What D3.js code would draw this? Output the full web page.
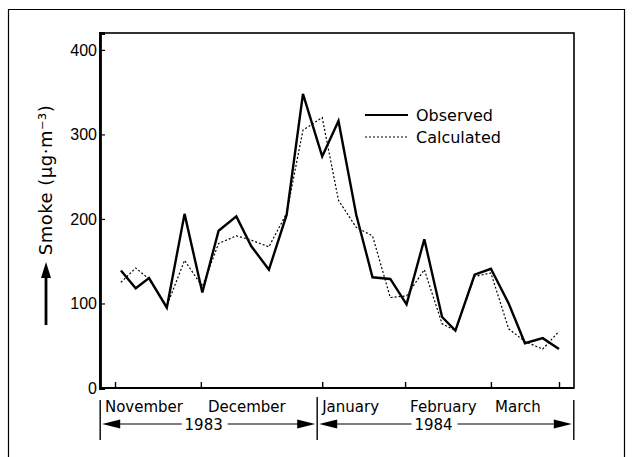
<!DOCTYPE html>
<html>
<head>
<meta charset="utf-8">
<script src="https://cdn.jsdelivr.net/npm/d3@7"></script>
<style>
  body { margin: 0; background: #fff; }
  svg { display: block; font-family: "DejaVu Sans", sans-serif; }
  .axis path, .axis line { stroke: #000; }
  .axis text { font-size: 16px; fill: #000; }
</style>
</head>
<body>
<main></main>
<script>
// days counted from 1 November 1983
const days = [2, 7, 11.5, 17.5, 23.5, 29.5, 35, 41, 46, 52, 58, 63.5, 70, 75.5, 81.5, 87, 93, 98.5, 104.5, 110.5, 115, 121.5, 127, 133, 138.5, 144.5, 150];
const observed = [139, 118, 130, 95, 206, 113, 186, 203, 168, 140, 205, 348, 274, 316, 205, 131, 129, 99, 176, 84, 68, 134, 141, 100, 53, 59, 46];
const calculated = [125, 142, 129, 97, 151, 120, 171, 180, 175, 167, 207, 305, 320, 222, 190, 180, 107, 109, 140, 76, 68, 132, 136, 70, 55, 46, 67];
const tickDays = [0, 29, 70, 98, 127, 150];
const yTicks = [0, 100, 200, 300, 400];
const months = ["November", "December", "January", "February", "March"];
const monthDays = [-3.4, 31.4, 70, 99.7, 128.4];
const years = ["1983", "1984"];
const yearBounds = [-5, 68.3, 155];

const W = 633, H = 457;
const box = { left: 100, right: 574, top: 33, bottom: 388 };

const svg = d3.select("main")
  .append("svg")
  .attr("width", W)
  .attr("height", H);

// outer frame
svg.append("path")
  .attr("d", "M8.5," + H + "V9.5H624.5V" + H)
  .attr("fill", "none")
  .attr("stroke", "#000")
  .attr("stroke-width", 1.2);

const x = d3.scaleLinear().domain([0, 150]).range([115, 559]);
const y = d3.scaleLinear().domain([0, 420]).range([box.bottom, box.top]);

// plot box
svg.append("rect")
  .attr("x", box.left)
  .attr("y", box.top)
  .attr("width", box.right - box.left)
  .attr("height", box.bottom - box.top)
  .attr("fill", "none")
  .attr("stroke", "#000")
  .attr("stroke-width", 1.6);

const yAxis = d3.axisLeft(y).tickValues(yTicks).tickSize(-5).tickPadding(3);
svg.append("g")
  .attr("class", "axis")
  .attr("transform", "translate(" + box.left + ",0)")
  .call(yAxis)
  .call(g => g.select(".domain").attr("stroke-width", 2.8))
  .call(g => g.selectAll("line").attr("stroke-width", 1.2));

const xAxis = d3.axisBottom(x).tickValues(tickDays).tickSize(-6).tickFormat("");
svg.append("g")
  .attr("class", "axis")
  .attr("transform", "translate(0," + box.bottom + ")")
  .call(xAxis)
  .call(g => g.select(".domain").remove())
  .call(g => g.selectAll("line").attr("stroke-width", 1.4));

svg.append("line")
  .attr("x1", box.left).attr("x2", box.right)
  .attr("y1", box.bottom).attr("y2", box.bottom)
  .attr("stroke", "#000")
  .attr("stroke-width", 2.2);

// series
const pts = days.map((d, i) => ({ d, o: observed[i], c: calculated[i] }));

svg.append("path")
  .datum(pts)
  .attr("fill", "none")
  .attr("stroke", "#000")
  .attr("stroke-width", 1.2)
  .attr("stroke-dasharray", "2,2")
  .attr("d", d3.line().x(p => x(p.d)).y(p => y(p.c)));

svg.append("path")
  .datum(pts)
  .attr("fill", "none")
  .attr("stroke", "#000")
  .attr("stroke-width", 2.4)
  .attr("stroke-linejoin", "miter")
  .attr("d", d3.line().x(p => x(p.d)).y(p => y(p.o)));

// legend
const legend = svg.append("g").attr("transform", "translate(365,115)");
legend.append("line").attr("x1", 0).attr("x2", 43).attr("stroke", "#000").attr("stroke-width", 1.8);
legend.append("line").attr("x1", 0).attr("x2", 43).attr("y1", 22).attr("y2", 22)
  .attr("stroke", "#000").attr("stroke-width", 1.2).attr("stroke-dasharray", "2,2");
legend.append("text").attr("x", 51).attr("y", 5.5).style("font-size", "16px").text("Observed");
legend.append("text").attr("x", 51).attr("y", 27.5).style("font-size", "16px").text("Calculated");

// y label with arrow
const ylab = svg.append("g").attr("transform", "translate(52,180) rotate(-90)");
ylab.append("text")
  .attr("text-anchor", "middle")
  .style("font-size", "18px")
  .style("letter-spacing", "0.5px")
  .text("Smoke (μg·m⁻³)");
svg.append("line")
  .attr("x1", 46).attr("x2", 46).attr("y1", 325).attr("y2", 276)
  .attr("stroke", "#000").attr("stroke-width", 2.8);
svg.append("path")
  .attr("d", "M41,278L46,262L51,278Z")
  .attr("fill", "#000");

// months
svg.selectAll(".month")
  .data(months)
  .enter()
  .append("text")
  .attr("class", "month")
  .attr("x", (d, i) => x(monthDays[i]))
  .attr("y", 412)
  .style("font-size", "15px")
  .text(d => d);

// year brackets
svg.selectAll(".ybar")
  .data(yearBounds)
  .enter()
  .append("line")
  .attr("x1", d => x(d)).attr("x2", d => x(d))
  .attr("y1", (d, i) => i === 1 ? 397 : 400)
  .attr("y2", 440)
  .attr("stroke", "#000")
  .attr("stroke-width", 1.4);

const arrowY = 424;
years.forEach((yr, i) => {
  const a = x(yearBounds[i]) + 2, b = x(yearBounds[i + 1]) - 2;
  const mid = (a + b) / 2 - (i === 0 ? 5 : 12);
  const g = svg.append("g");
  g.append("text")
    .attr("x", mid)
    .attr("y", arrowY + 6)
    .attr("text-anchor", "middle")
    .style("font-size", "15px")
    .text(yr);
  g.append("line").attr("x1", a + 10).attr("x2", mid - 22).attr("y1", arrowY).attr("y2", arrowY)
    .attr("stroke", "#000").attr("stroke-width", 1.2);
  g.append("line").attr("x1", mid + 24).attr("x2", b - 10).attr("y1", arrowY).attr("y2", arrowY)
    .attr("stroke", "#000").attr("stroke-width", 1.2);
  g.append("path").attr("d", "M" + a + "," + arrowY + "l18,-4.5v9Z").attr("fill", "#000");
  g.append("path").attr("d", "M" + b + "," + arrowY + "l-18,-4.5v9Z").attr("fill", "#000");
});
</script>
</body>
</html>
